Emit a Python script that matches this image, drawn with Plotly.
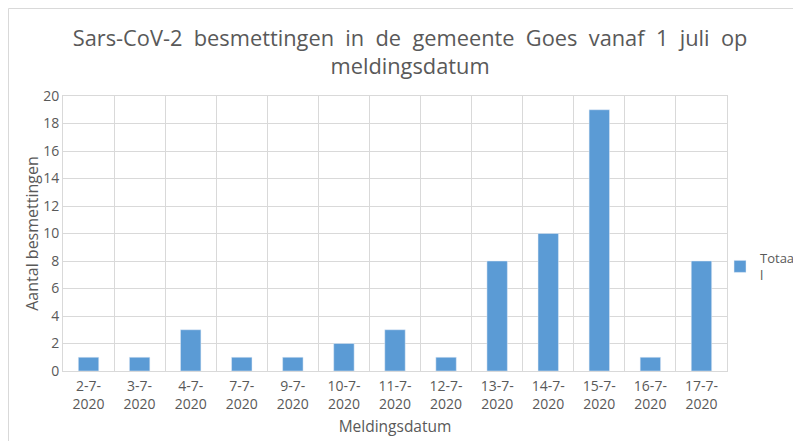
import plotly.graph_objects as go

categories = ["2-7-<br>2020", "3-7-<br>2020", "4-7-<br>2020", "7-7-<br>2020", "9-7-<br>2020",
              "10-7-<br>2020", "11-7-<br>2020", "12-7-<br>2020", "13-7-<br>2020", "14-7-<br>2020",
              "15-7-<br>2020", "16-7-<br>2020", "17-7-<br>2020"]
totaal = [1, 1, 3, 1, 1, 2, 3, 1, 8, 10, 19, 1, 8]
y_ticks = [0, 2, 4, 6, 8, 10, 12, 14, 16, 18, 20]

title_line1 = ["Sars-CoV-2", "besmettingen", "in", "de", "gemeente", "Goes", "vanaf", "1", "juli", "op"]
title_text = "\u00a0 ".join(title_line1) + "<br>meldingsdatum"

txt = "#595959"
grid = "#d9d9d9"
font = "Open Sans"

# page body has an 8px margin: figure sized to fit the 801x441 window
W, H = 793, 433
ML, MR, MT, MB = 55, 74, 88, 70

fig = go.Figure()
fig.add_trace(go.Bar(x=categories, y=totaal, name="Totaa<br>l", marker_color="#5b9bd5"))

fig.update_layout(
    width=W, height=H,
    paper_bgcolor="white", plot_bgcolor="white",
    margin=dict(l=ML, r=MR, t=MT, b=MB, autoexpand=False),
    font=dict(family=font, color=txt, size=14),
    title=dict(text=title_text, x=0.507, xanchor="center", xref="container",
               y=0.913, yanchor="top", yref="container",
               font=dict(size=21.8, color=txt, family=font)),
    bargap=0.6,
    showlegend=True,
    legend=dict(x=0.9895, y=0.38, xanchor="left", yanchor="middle",
                bgcolor="rgba(0,0,0,0)", font=dict(size=13, color=txt)),
    shapes=[dict(type="rect", xref="paper", yref="paper",
                 x0=(0.5 - ML) / 664, x1=1.3, y0=-0.5, y1=(275 + MT - 0.5) / 275,
                 line=dict(color="#d9d9d9", width=1), fillcolor="rgba(0,0,0,0)", layer="below")],
)
fig.update_xaxes(type="category", tickson="boundaries", showgrid=True, gridcolor=grid, gridwidth=1,
                 showline=True, linecolor=grid, mirror=True, ticks="", automargin=False,
                 ticklabelstandoff=2, tickfont=dict(size=14, color=txt),
                 title=dict(text="Meldingsdatum", font=dict(size=15.5, color=txt), standoff=9))
fig.update_yaxes(range=[0, 20], tickvals=y_ticks, showgrid=True, gridcolor=grid, gridwidth=1,
                 showline=True, linecolor=grid, mirror=True, ticks="", zeroline=False, automargin=False,
                 tickfont=dict(size=14, color=txt),
                 title=dict(text="Aantal besmettingen", font=dict(size=16, color=txt), standoff=0))

fig.write_html("out.html")
